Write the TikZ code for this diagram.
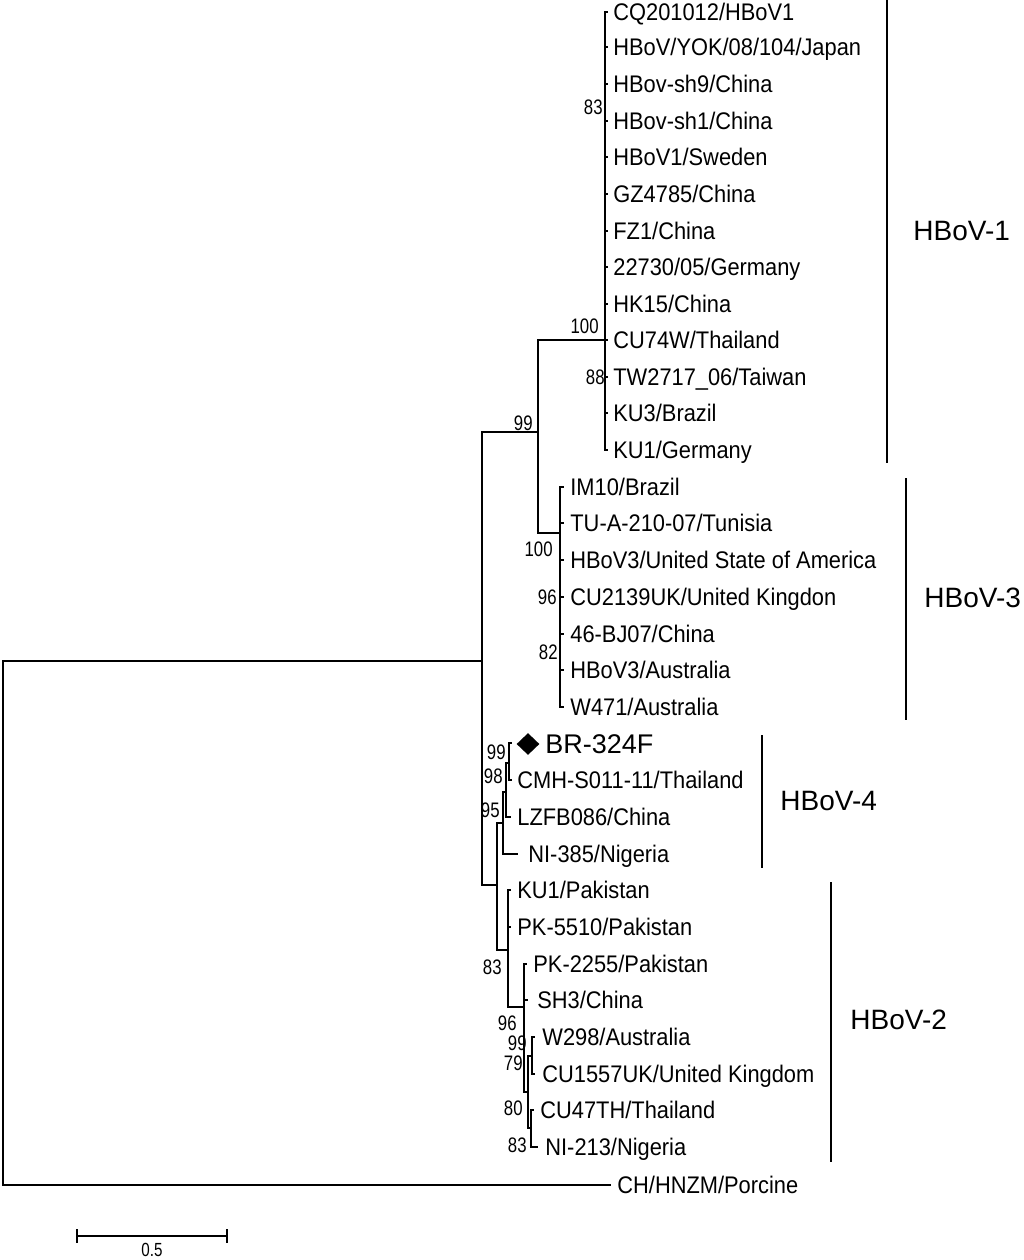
\documentclass[tikz,border=0pt]{standalone}
\usepackage{fontspec}
\setmainfont{Liberation Sans}
\newfontfamily\leaffam[FakeStretch=0.91]{Liberation Sans}
\newfontfamily\bootfam[FakeStretch=0.8]{Liberation Sans}
\newcommand\leaffont{\leaffam\fontsize{12pt}{14pt}\selectfont}
\newcommand\bootfont{\bootfam\fontsize{10.5pt}{12pt}\selectfont}
\newcommand\scalefont{\bootfam\fontsize{9.5pt}{11pt}\selectfont}
\newcommand\cladefont{\rmfamily\fontsize{14pt}{16pt}\selectfont}
\newcommand\brfont{\rmfamily\fontsize{13.5pt}{16pt}\selectfont}
\usetikzlibrary{shapes.geometric}
\tikzset{
  br/.style={line width=1pt},
  bracket/.style={line width=1pt},
  leaf/.style={anchor=west, inner sep=0pt, font=\leaffont, text height=8.6pt, text depth=0pt},
  boot/.style={anchor=east, inner sep=0pt, font=\bootfont, text height=7.5pt, text depth=0pt},
  clade/.style={anchor=west, inner sep=0pt, font=\cladefont, text height=10pt, text depth=0pt},
}
\begin{document}
\begin{tikzpicture}[x=0.5pt, y=-0.5pt]
\useasboundingbox (0,0) rectangle (1024,1260);
% ---------- tips ----------
\coordinate (t0) at (608,12);
\coordinate (t1) at (608,47);
\coordinate (t2) at (608,84);
\coordinate (t3) at (608,121);
\coordinate (t4) at (608,157);
\coordinate (t5) at (608,194);
\coordinate (t6) at (608,231);
\coordinate (t7) at (608,267);
\coordinate (t8) at (608,304);
\coordinate (t9) at (608,340);
\coordinate (t10) at (608,377);
\coordinate (t11) at (608,413);
\coordinate (t12) at (608,450);
\coordinate (t13) at (564,487);
\coordinate (t14) at (564,523);
\coordinate (t15) at (564,560);
\coordinate (t16) at (564,597);
\coordinate (t17) at (564,634);
\coordinate (t18) at (564,670);
\coordinate (t19) at (564,707);
\coordinate (t20) at (512,743);
\coordinate (t21) at (512,780);
\coordinate (t22) at (511,817);
\coordinate (t23) at (518,854);
\coordinate (t24) at (511,890);
\coordinate (t25) at (511,927);
\coordinate (t26) at (527,964);
\coordinate (t27) at (528,1000);
\coordinate (t28) at (535,1037);
\coordinate (t29) at (535,1074);
\coordinate (t30) at (534,1110);
\coordinate (t31) at (538,1147);
\coordinate (t32) at (611,1185);
% ---------- internal nodes ----------
\coordinate (R) at (3,923);
\coordinate (A) at (482,661);
\coordinate (N13) at (538,432);
\coordinate (N1) at (605,340);
\coordinate (N3) at (560,533);
\coordinate (B) at (497,885);
\coordinate (H4) at (503,823);
\coordinate (G) at (506,792);
\coordinate (K) at (509,763);
\coordinate (H2) at (508,950);
\coordinate (C) at (524,1007);
\coordinate (D) at (528,1092);
\coordinate (E) at (532,1056);
\coordinate (F) at (531,1128);
% ---------- branches ----------
\draw[br] (R) |- (A);
\draw[br] (R) |- (t32);
\draw[br] (A) |- (N13);
\draw[br] (A) |- (B);
\draw[br] (N13) |- (N1);
\draw[br] (N13) |- (N3);
\foreach \i in {0,...,12} \draw[br] (N1) |- (t\i);
\foreach \i in {13,...,19} \draw[br] (N3) |- (t\i);
\draw[br] (B) |- (H4);
\draw[br] (B) |- (H2);
\draw[br] (H4) |- (G);
\draw[br] (H4) |- (t23);
\draw[br] (G) |- (K);
\draw[br] (G) |- (t22);
\draw[br] (K) |- (t20);
\draw[br] (K) |- (t21);
\draw[br] (H2) |- (t24);
\draw[br] (H2) |- (t25);
\draw[br] (H2) |- (C);
\draw[br] (C) |- (t26);
\draw[br] (C) |- (t27);
\draw[br] (C) |- (D);
\draw[br] (D) |- (E);
\draw[br] (D) |- (F);
\draw[br] (E) |- (t28);
\draw[br] (E) |- (t29);
\draw[br] (F) |- (t30);
\draw[br] (F) |- (t31);
% ---------- leaf labels ----------
\node[leaf] (l0) at (613,12) {CQ201012/HBoV1};
\node[leaf] (l1) at (613,47) {HBoV/YOK/08/104/Japan};
\node[leaf] (l2) at (613,84) {HBov-sh9/China};
\node[leaf] (l3) at (613,121) {HBov-sh1/China};
\node[leaf] (l4) at (613,157) {HBoV1/Sweden};
\node[leaf] (l5) at (613,194) {GZ4785/China};
\node[leaf] (l6) at (613,231) {FZ1/China};
\node[leaf] (l7) at (613,267) {22730/05/Germany};
\node[leaf] (l8) at (613,304) {HK15/China};
\node[leaf] (l9) at (613,340) {CU74W/Thailand};
\node[leaf] (l10) at (613,377) {TW2717\_06/Taiwan};
\node[leaf] (l11) at (613,413) {KU3/Brazil};
\node[leaf] (l12) at (613,450) {KU1/Germany};
\node[leaf] (l13) at (570,487) {IM10/Brazil};
\node[leaf] (l14) at (570,523) {TU-A-210-07/Tunisia};
\node[leaf] (l15) at (570,560) {HBoV3/United State of America};
\node[leaf] (l16) at (570,597) {CU2139UK/United Kingdon};
\node[leaf] (l17) at (570,634) {46-BJ07/China};
\node[leaf] (l18) at (570,670) {HBoV3/Australia};
\node[leaf] (l19) at (570,707) {W471/Australia};
\node[diamond, fill=black, inner sep=0pt, minimum width=11.5pt, minimum height=11pt] (dia) at (528,744) {};
\node[anchor=west, inner sep=0pt, font=\brfont, text height=9.7pt, text depth=0pt] (l20) at (545,744) {BR-324F};
\node[leaf] (l21) at (517,780) {CMH-S011-11/Thailand};
\node[leaf] (l22) at (517,817) {LZFB086/China};
\node[leaf] (l23) at (528,854) {NI-385/Nigeria};
\node[leaf] (l24) at (517,890) {KU1/Pakistan};
\node[leaf] (l25) at (517,927) {PK-5510/Pakistan};
\node[leaf] (l26) at (533,964) {PK-2255/Pakistan};
\node[leaf] (l27) at (537,1000) {SH3/China};
\node[leaf] (l28) at (542,1037) {W298/Australia};
\node[leaf] (l29) at (542,1074) {CU1557UK/United Kingdom};
\node[leaf] (l30) at (540,1110) {CU47TH/Thailand};
\node[leaf] (l31) at (545,1147) {NI-213/Nigeria};
\node[leaf] (l32) at (617,1185) {CH/HNZM/Porcine};
% ---------- bootstrap values ----------
\node[boot] (b1) at (603,107) {83};
\node[boot] (b2) at (599,326) {100};
\node[boot] (b3) at (605,377) {88};
\node[boot] (b4) at (533,423) {99};
\node[boot] (b5) at (553,549) {100};
\node[boot] (b6) at (557,597) {96};
\node[boot] (b7) at (558,652) {82};
\node[boot] (b8) at (506,752) {99};
\node[boot] (b9) at (503,776) {98};
\node[boot] (b10) at (500,810) {95};
\node[boot] (b11) at (502,967) {83};
\node[boot] (b12) at (517,1023) {96};
\node[boot] (b13) at (527,1043) {99};
\node[boot] (b14) at (523,1063) {79};
\node[boot] (b15) at (523,1108) {80};
\node[boot] (b16) at (527,1145) {83};
% ---------- clade brackets ----------
\coordinate (c1t) at (887,0);
\coordinate (c1b) at (887,463);
\draw[bracket] (c1t) -- (c1b);
\node[clade] (k1) at (913,230) {HBoV-1};
\coordinate (c3t) at (906,478);
\coordinate (c3b) at (906,720);
\draw[bracket] (c3t) -- (c3b);
\node[clade] (k3) at (924,597) {HBoV-3};
\coordinate (c4t) at (762,735);
\coordinate (c4b) at (762,868);
\draw[bracket] (c4t) -- (c4b);
\node[clade] (k4) at (780,800) {HBoV-4};
\coordinate (c2t) at (831,882);
\coordinate (c2b) at (831,1162);
\draw[bracket] (c2t) -- (c2b);
\node[clade] (k2) at (850,1019) {HBoV-2};
% ---------- scale bar ----------
\coordinate (s1) at (77,1236);
\coordinate (s2) at (227,1236);
\coordinate (s1a) at (77,1229);
\coordinate (s1b) at (77,1243);
\coordinate (s2a) at (227,1229);
\coordinate (s2b) at (227,1243);
\draw[br] (s1) -- (s2);
\draw[br] (s1a) -- (s1b);
\draw[br] (s2a) -- (s2b);
\node[anchor=north, inner sep=0pt, font=\scalefont, text height=6.8pt, text depth=0pt] (sl) at (152,1242) {0.5};
\end{tikzpicture}
\end{document}
